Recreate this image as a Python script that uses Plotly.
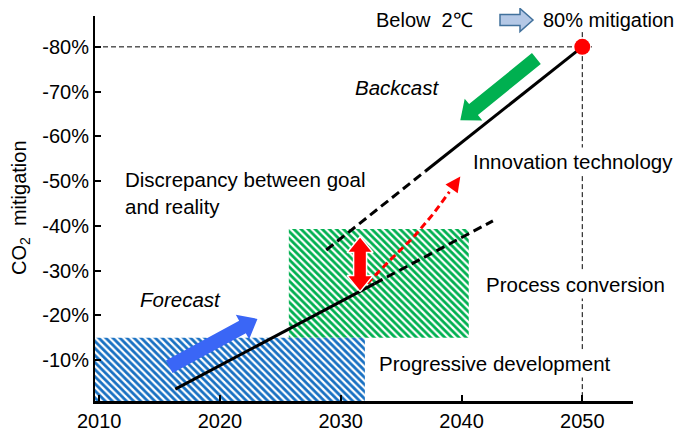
import math
import plotly.graph_objects as go

# ---------------- data ----------------
x_ticks = [2010, 2020, 2030, 2040, 2050]
y_ticks = [-80, -70, -60, -50, -40, -30, -20, -10]
y_tick_labels = ["-80%", "-70%", "-60%", "-50%", "-40%", "-30%", "-20%", "-10%"]

progressive_x = [2009.65, 2032.0]   # "Progressive development" zone
progressive_y = [-0.85, -15.0]
process_x = [2025.7, 2040.6]        # "Process conversion" zone
process_y = [-15.0, -39.3]

forecast_solid_x = [2016.3, 2032.8]
forecast_solid_y = [-3.5, -27.1]
forecast_dash_x = [2032.8, 2042.6]
forecast_dash_y = [-27.1, -41.1]

backcast_solid_x = [2037.0, 2050.0]
backcast_solid_y = [-52.2, -80.0]
backcast_dash_x = [2028.8, 2037.0]
backcast_dash_y = [-34.6, -52.2]

goal_x = [2050]
goal_y = [-80]

innovation_x = [2032.2, 2034.1, 2036.0, 2037.7, 2039.0]
innovation_y = [-27.1, -32.4, -37.4, -42.8, -47.6]
innovation_tip = (2039.9, -51.0)

# ---------------- geometry ----------------
# page pixels (the html body adds an 8px margin around the figure)
OFF = 8
WIN_W, WIN_H = 685, 441
PL, PT, PW, PH = 95, 16, 538, 385          # plot area in page pixels
FW, FH = WIN_W - OFF, WIN_H - OFF
ML, MT = PL - OFF, PT - OFF
MR = FW + OFF - (PL + PW)
MB = FH + OFF - (PT + PH)
XR = [2009.65, 2054.2]
YR = [-0.85, -86.9]   # bottom, top

BLUE = "#1870c2"
GREEN = "#00b050"
ARROW_BLUE = "#3a66f6"
RED = "#ff0000"
FONT = "Liberation Sans, Arial, sans-serif"


def to_px(x, y):
    px = PL + (x - XR[0]) / (XR[1] - XR[0]) * PW
    py = PT + (y - YR[1]) / (YR[0] - YR[1]) * PH
    return px, py


def from_px(px, py):
    x = XR[0] + (px - PL) / PW * (XR[1] - XR[0])
    y = YR[1] + (py - PT) / PH * (YR[0] - YR[1])
    return x, y


def block_arrow(p0, p1, w, hw, hl, double=False):
    """p0 tail, p1 tip, in pixels; returns pixel polygon."""
    dx, dy = p1[0] - p0[0], p1[1] - p0[1]
    d = math.hypot(dx, dy)
    ux, uy = dx / d, dy / d
    nx, ny = -uy, ux

    def pt(base, s, k):
        return (base[0] + nx * s * k, base[1] + ny * s * k)

    b1 = (p1[0] - ux * hl, p1[1] - uy * hl)
    if w <= 0:
        pts = [pt(b1, hw, 1), p1, pt(b1, hw, -1)]
    elif not double:
        pts = [pt(p0, w, 1), pt(b1, w, 1), pt(b1, hw, 1), p1,
               pt(b1, hw, -1), pt(b1, w, -1), pt(p0, w, -1)]
    else:
        b0 = (p0[0] + ux * hl, p0[1] + uy * hl)
        pts = [p0, pt(b0, hw, 1), pt(b0, w, 1), pt(b1, w, 1), pt(b1, hw, 1), p1,
               pt(b1, hw, -1), pt(b1, w, -1), pt(b0, w, -1), pt(b0, hw, -1)]
    pts.append(pts[0])
    return pts


def arrow_trace(tail, tip, w, hw, hl, color, double=False, outline=None):
    p0 = to_px(*tail)
    p1 = to_px(*tip)
    poly = [from_px(*p) for p in block_arrow(p0, p1, w, hw, hl, double)]
    return go.Scatter(
        x=[p[0] for p in poly], y=[p[1] for p in poly], mode="lines",
        fill="toself", fillcolor=color,
        line=dict(color=outline or color, width=1.5 if outline else 0),
        hoverinfo="skip", showlegend=False)


def rect_trace(xs, ys, color):
    return go.Scatter(
        x=[xs[0], xs[1], xs[1], xs[0], xs[0]],
        y=[ys[0], ys[0], ys[1], ys[1], ys[0]],
        mode="lines", fill="toself", fillcolor="white",
        fillpattern=dict(shape="\\", fgcolor=color, bgcolor="white",
                         size=5, solidity=0.55, fillmode="replace"),
        line=dict(width=0), hoverinfo="skip", showlegend=False)


fig = go.Figure()

fig.add_trace(rect_trace(process_x, process_y, GREEN))
fig.add_trace(rect_trace(progressive_x, progressive_y, BLUE))

# reference dashed lines to the goal
fig.add_trace(go.Scatter(x=[XR[0], goal_x[0] + 0.8], y=[goal_y[0], goal_y[0]], mode="lines",
                         line=dict(color="black", width=1, dash="5px,3px"),
                         hoverinfo="skip", showlegend=False))
fig.add_trace(go.Scatter(x=[goal_x[0], goal_x[0]], y=[goal_y[0] - 3.3, YR[0]], mode="lines",
                         line=dict(color="black", width=1, dash="5px,3px"),
                         hoverinfo="skip", showlegend=False))

# pathways
for xs, ys, dash in [(forecast_solid_x, forecast_solid_y, "solid"),
                     (forecast_dash_x, forecast_dash_y, "9px,5px"),
                     (backcast_solid_x, backcast_solid_y, "solid"),
                     (backcast_dash_x, backcast_dash_y, "9px,5px")]:
    fig.add_trace(go.Scatter(x=xs, y=ys, mode="lines",
                             line=dict(color="black", width=3, dash=dash),
                             hoverinfo="skip", showlegend=False))

# innovation red dashed curve + arrow head
fig.add_trace(go.Scatter(x=innovation_x, y=innovation_y, mode="lines",
                         line=dict(color=RED, width=3, dash="7px,4px"),
                         hoverinfo="skip", showlegend=False))
fig.add_trace(arrow_trace((innovation_x[-1], innovation_y[-1]), innovation_tip, 0, 7.5, 15, RED))

# block arrows
fig.add_trace(arrow_trace((2015.8, -8.5), (2023.1, -19.2), 7, 14, 17, ARROW_BLUE))
fig.add_trace(arrow_trace((2046.2, -77.4), (2039.9, -63.6), 7, 14, 17, GREEN))
fig.add_trace(arrow_trace((2031.6, -25.3), (2031.6, -37.6), 6.5, 13, 16, RED,
                          double=True, outline="white"))

# goal point
fig.add_trace(go.Scatter(x=goal_x, y=goal_y, mode="markers",
                         marker=dict(color=RED, size=16, line=dict(width=0)),
                         hoverinfo="skip", showlegend=False, cliponaxis=False))

anns = []


def txt(text, x, y, yref="y", bg=None, italic=False, size=20.5, pad=2):
    anns.append(dict(text=f"<i>{text}</i>" if italic else text, x=x, y=y,
                     xref="x", yref=yref, xanchor="left", yanchor="middle",
                     showarrow=False, align="left",
                     font=dict(family=FONT, size=size, color="black"),
                     bgcolor=bg, borderpad=pad))


HEAD_PY = 20
HEAD_Y = (PT + PH - HEAD_PY) / PH
txt("Below\u00a0\u00a02\u2103", 2032.8, HEAD_Y, yref="paper", size=20, pad=0)
txt("80% mitigation", 2046.7, HEAD_Y, yref="paper", size=20, pad=0)
txt("Backcast", 2030.9, -71.0, italic=True)
txt("Innovation technology", 2040.7, -54.3, bg="white")
txt("Discrepancy between goal<br>and reality", 2011.9, -47.4)
txt("Process conversion", 2041.8, -26.8, bg="white")
txt("Forecast", 2013.1, -23.6, italic=True)
txt("Progressive development", 2032.9, -9.3, bg="white")

# y axis title
anns.append(dict(text="CO<sub>2</sub>\u00a0\u00a0mitigation", x=(20 - PL) / PW,
                 y=(PT + PH - 208) / PH,
                 xref="paper", yref="paper", textangle=-90, showarrow=False,
                 xanchor="center", yanchor="middle",
                 font=dict(family=FONT, size=20, color="black")))

# header hollow arrow (page pixel geometry -> paper coords)
hp = block_arrow((500, HEAD_PY), (533, HEAD_PY), 5.5, 11.5, 13)
path = "M" + " L".join(f"{(px - PL) / PW:.5f},{(PT + PH - py) / PH:.5f}" for px, py in hp) + " Z"
shapes = [dict(type="path", path=path, xref="paper", yref="paper",
               fillcolor="#b4c8e6", line=dict(color="#41719c", width=1.5), layer="above")]

fig.update_layout(
    width=FW, height=FH,
    margin=dict(l=ML, r=MR, t=MT, b=MB, autoexpand=False),
    paper_bgcolor="white", plot_bgcolor="white",
    showlegend=False,
    annotations=anns, shapes=shapes,
    font=dict(family=FONT, size=20, color="black"),
    xaxis=dict(range=XR, tickvals=x_ticks, ticktext=[str(v) for v in x_ticks],
               showgrid=False, zeroline=False, showline=True, linecolor="black",
               linewidth=2.5, ticks="inside", ticklen=6, tickwidth=1.5, tickcolor="black",
               tickfont=dict(family=FONT, size=20, color="black"), fixedrange=True,
               automargin=False),
    yaxis=dict(range=YR, tickvals=y_ticks, ticktext=y_tick_labels,
               showgrid=False, zeroline=False, showline=True, linecolor="black",
               linewidth=2, ticks="inside", ticklen=6, tickwidth=1.5, tickcolor="black",
               tickfont=dict(family=FONT, size=20, color="black"), fixedrange=True,
               automargin=False),
)

fig.write_html("out.html")
